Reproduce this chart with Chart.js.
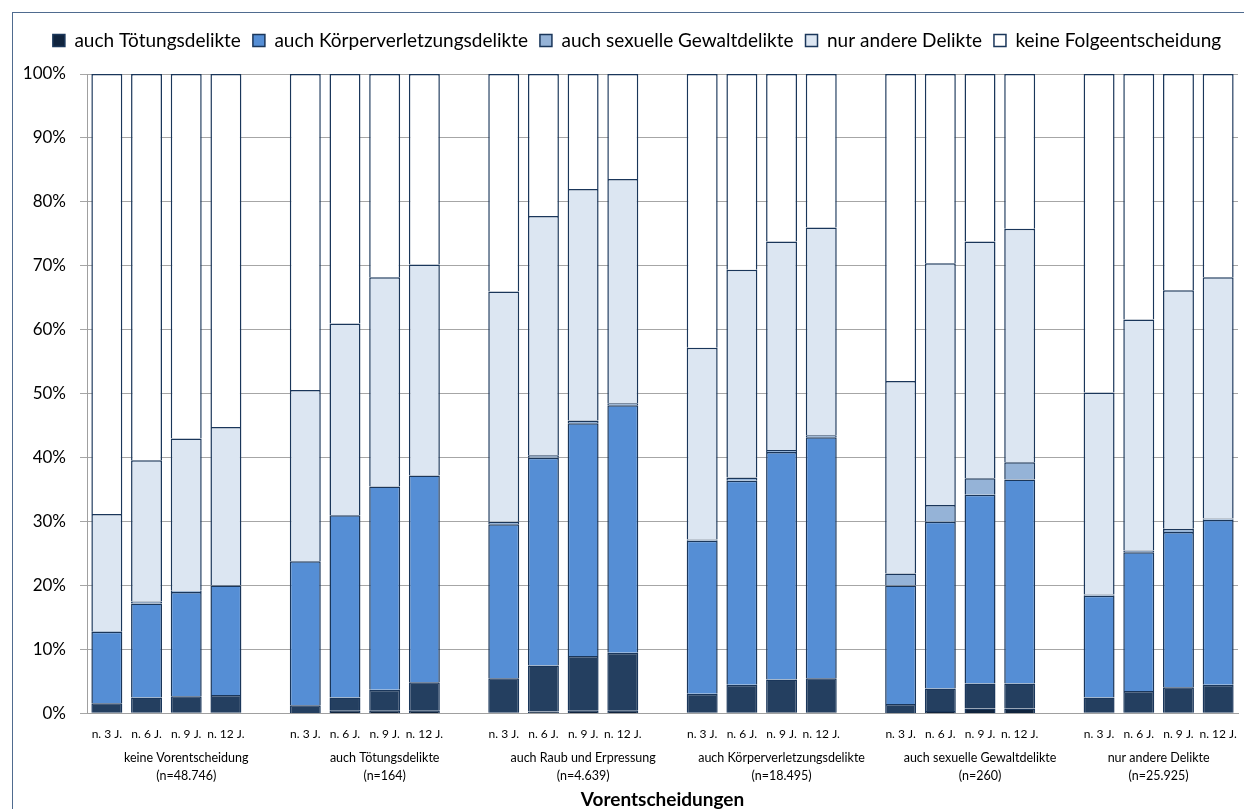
<!DOCTYPE html>
<html>
<head>
<meta charset="utf-8">
<script src="https://cdn.jsdelivr.net/npm/chart.js@4.4.1/dist/chart.umd.min.js"></script>
<style>
  html, body { margin: 0; padding: 0; background: #fff; overflow: hidden; }
  #wrap { width: 1244px; height: 809px; position: relative; }
</style>
</head>
<body>
<div id="wrap"><canvas id="chart" width="1244" height="809"></canvas></div>
<script>
// Vorentscheidungen (groups) and follow-up periods
const groups = ['keine Vorentscheidung', 'auch Tötungsdelikte', 'auch Raub und Erpressung', 'auch Körperverletzungsdelikte', 'auch sexuelle Gewaltdelikte', 'nur andere Delikte'];
const groupN = ['(n=48.746)', '(n=164)', '(n=4.639)', '(n=18.495)', '(n=260)', '(n=25.925)'];
const periods = ['n. 3 J.', 'n. 6 J.', 'n. 9 J.', 'n. 12 J.'];
const yTicks = [0, 10, 20, 30, 40, 50, 60, 70, 80, 90, 100];

// Folgeentscheidungen in %, 4 periods per group, groups in order above
const toetung = [0.1, 0.1, 0.1, 0.1,  0.0, 0.5, 0.5, 0.5,  0.1, 0.3, 0.5, 0.5,  0.1, 0.1, 0.2, 0.2,  0.0, 0.4, 0.8, 0.8,  0.1, 0.1, 0.1, 0.1];
const raub    = [1.5, 2.4, 2.6, 2.8,  1.3, 2.0, 3.2, 4.4,  5.4, 7.2, 8.5, 9.0,  3.0, 4.4, 5.1, 5.3,  1.5, 3.5, 3.9, 3.9,  2.4, 3.4, 4.0, 4.4];
const koerper = [11.2, 14.7, 16.3, 17.1,  22.5, 28.5, 31.8, 32.3,  24.1, 32.5, 36.4, 38.7,  23.9, 31.9, 35.6, 37.7,  18.5, 26.1, 29.5, 31.9,  15.9, 21.7, 24.3, 25.8];
const sexuell = [0.1, 0.3, 0.2, 0.1,  0.0, 0.0, 0.0, 0.0,  0.4, 0.4, 0.4, 0.3,  0.2, 0.5, 0.3, 0.3,  1.9, 2.6, 2.6, 2.7,  0.2, 0.3, 0.5, 0.2];
const andere  = [18.3, 22.1, 23.8, 24.7,  26.8, 30.0, 32.7, 33.0,  36.0, 37.4, 36.2, 35.1,  30.0, 32.5, 32.6, 32.5,  30.1, 37.8, 37.0, 36.5,  31.6, 36.1, 37.3, 37.7];
const keine   = [68.8, 60.4, 57.0, 55.2,  49.4, 39.0, 31.8, 29.8,  34.0, 22.2, 18.0, 16.4,  42.8, 30.6, 26.2, 24.0,  48.0, 29.6, 26.2, 24.2,  49.8, 38.4, 33.8, 31.8];

const seriesNames = ['auch Tötungsdelikte', 'auch Raub und Erpressung', 'auch Körperverletzungsdelikte', 'auch sexuelle Gewaltdelikte', 'nur andere Delikte', 'keine Folgeentscheidung'];
const seriesValues = [toetung, raub, koerper, sexuell, andere, keine];
const seriesColors = ['#10243e', '#243f60', '#558ed5', '#95b3d7', '#dce6f2', '#ffffff'];
const hiddenInLegend = ['auch Raub und Erpressung'];

// build category slots: 4 bars per group, one empty slot between groups
const labels = [];
const slotIndex = [];   // slot -> bar index (or null for gap)
const groupSpan = [];   // [firstSlot, lastSlot] per group
groups.forEach((g, gi) => {
  const first = labels.length;
  periods.forEach((p, pi) => { labels.push(p); slotIndex.push(gi * periods.length + pi); });
  if (gi < groups.length - 1) { labels.push(''); slotIndex.push(null); }
  groupSpan.push([first, labels.length - 1]);
});

const datasets = seriesNames.map((name, si) => ({
  label: name,
  data: slotIndex.map(i => i === null ? null : seriesValues[si][i]),
  backgroundColor: seriesColors[si],
  borderColor: '#1a365a',
  borderWidth: 1.5,
  barPercentage: 0.78,
  categoryPercentage: 1.0
}));

const frameAndGroups = {
  id: 'frameAndGroups',
  beforeLayout(chart) {
    // keep the legend band fixed so the plot starts where the original does
    const lg = chart.legend;
    if (lg && !lg._fixedFit) {
      const fit = lg.fit;
      lg.fit = function () { fit.call(this); this.height = 55; };
      lg._fixedFit = true;
    }
  },
  afterLayout(chart) {
    const lg = chart.legend;
    if (lg) { lg.left += 24; lg.right += 12; }
  },
  beforeDraw(chart) {
    const c = chart.ctx;
    c.save();
    c.strokeStyle = '#4f6b8f';
    c.lineWidth = 1;
    c.strokeRect(12.5, 12.5, 1400, 1000);
    c.restore();
  },
  afterDraw(chart) {
    const c = chart.ctx;
    const x = chart.scales.x;
    c.save();
    c.fillStyle = '#000';
    c.font = '12.5px Lato';
    c.textAlign = 'center';
    c.textBaseline = 'middle';
    groups.forEach((g, gi) => {
      const [a, b] = groupSpan[gi];
      const cx = (x.getPixelForValue(a) + x.getPixelForValue(b)) / 2;
      c.fillText(g, cx, 758);
      c.fillText(groupN[gi], cx, 776);
    });
    c.font = 'bold 19px Lato';
    c.textBaseline = 'alphabetic';
    c.fillText('Vorentscheidungen', (chart.chartArea.left + chart.chartArea.right) / 2, 806);
    c.restore();
  }
};

new Chart(document.getElementById('chart'), {
  type: 'bar',
  data: { labels, datasets },
  options: {
    responsive: false,
    animation: false,
    layout: { padding: { top: 19, right: 6, left: 0, bottom: 0 } },
    plugins: {
      legend: {
        position: 'top',
        labels: {
          font: { family: 'Lato', size: 19 },
          color: '#000',
          boxWidth: 12,
          boxHeight: 12,
          padding: 12,
          filter: item => !hiddenInLegend.includes(item.text)
        }
      },
      tooltip: { enabled: false }
    },
    scales: {
      x: {
        stacked: true,
        grid: { display: false },
        border: { display: true, color: '#a0a0a0' },
        ticks: { font: { family: 'Lato', size: 12 }, color: '#000', padding: 5, maxRotation: 0, autoSkip: false },
        afterFit: s => { s.height = 95.5; }
      },
      y: {
        stacked: true,
        min: 0,
        max: 100,
        afterBuildTicks: s => { s.ticks = yTicks.map(v => ({ value: v })); },
        grid: { color: '#a6a6a6', lineWidth: 1, tickLength: 7 },
        border: { display: true, color: '#a0a0a0' },
        ticks: { font: { family: 'Lato', size: 17 }, color: '#000', padding: 14, callback: v => v + '%' },
        afterFit: s => { s.width = 87; }
      }
    }
  },
  plugins: [frameAndGroups]
});
</script>
</body>
</html>
